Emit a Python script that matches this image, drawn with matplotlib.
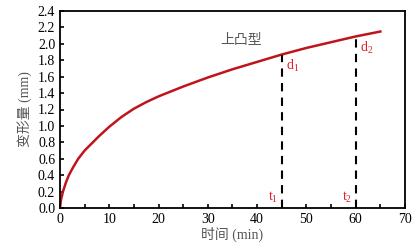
import matplotlib
matplotlib.use("Agg")
import matplotlib.pyplot as plt
from matplotlib.ticker import MultipleLocator

t = [0, 0.2, 0.6, 1.2, 1.8, 2.7, 3.7, 5, 6.5, 8, 10, 12.5, 15, 17.5, 20, 25, 30, 35, 40, 45, 50, 55, 60, 65]
d = [0, 0.10, 0.20, 0.31, 0.40, 0.50, 0.60, 0.70, 0.79, 0.88, 0.99, 1.11, 1.21, 1.29, 1.36, 1.48, 1.59, 1.69, 1.78, 1.87, 1.95, 2.02, 2.09, 2.15]
t_marks = [45, 60]
d_marks = [1.87, 2.09]
y_ticks = [0.0, 0.2, 0.4, 0.6, 0.8, 1.0, 1.2, 1.4, 1.6, 1.8, 2.0, 2.2, 2.4]

plt.rcParams['font.family'] = ['Liberation Serif', 'Noto Sans CJK SC']
plt.rcParams['mathtext.fontset'] = 'custom'
plt.rcParams['mathtext.rm'] = 'Liberation Serif'
plt.rcParams['mathtext.it'] = 'Liberation Serif:italic'

fig = plt.figure(figsize=(4.2, 2.48), dpi=100)
ax = fig.add_axes([60/420, 40/248, 345/420, 197/248])
ax.plot(t, d, color='#c0141c', lw=1.8, solid_joinstyle='round')
for tm, dm, i in zip(t_marks, d_marks, [1, 2]):
    ax.plot([tm, tm], [0, dm], color='black', lw=1.5, ls=(0, (4, 3)))
    ax.text(tm - 0.8, 0.04, f"t$_{i}$", color='#e0202a', fontsize=10, ha='right', va='bottom')
    ax.text(tm + 0.8, dm - 0.04, f"d$_{i}$", color='#e0202a', fontsize=10, ha='left', va='top')
ax.text(36.8, 2.05, "上凸型", color='#555555', fontsize=10, family=['Noto Sans CJK SC'], ha='center', va='center')
ax.xaxis.set_major_locator(MultipleLocator(10))
ax.xaxis.set_minor_locator(MultipleLocator(5))
ax.set_yticks(y_ticks)
ax.set_yticklabels([f"{v:.1f}" for v in y_ticks])
ax.set_xlim(0, 70)
ax.set_ylim(0, 2.4)
ax.tick_params(direction='in', which='both', labelsize=10, top=False, right=False)
ax.tick_params(which='major', length=3, width=1.2)
ax.tick_params(which='minor', length=3, width=1.2)
for s in ax.spines.values():
    s.set_linewidth(1.3)
ax.set_xlabel("时间 (min)", color='#555555', fontsize=10, labelpad=1)
ax.set_ylabel("变形量 (mm)", color='#555555', fontsize=10, labelpad=4)
fig.savefig("out.png", dpi=100)
